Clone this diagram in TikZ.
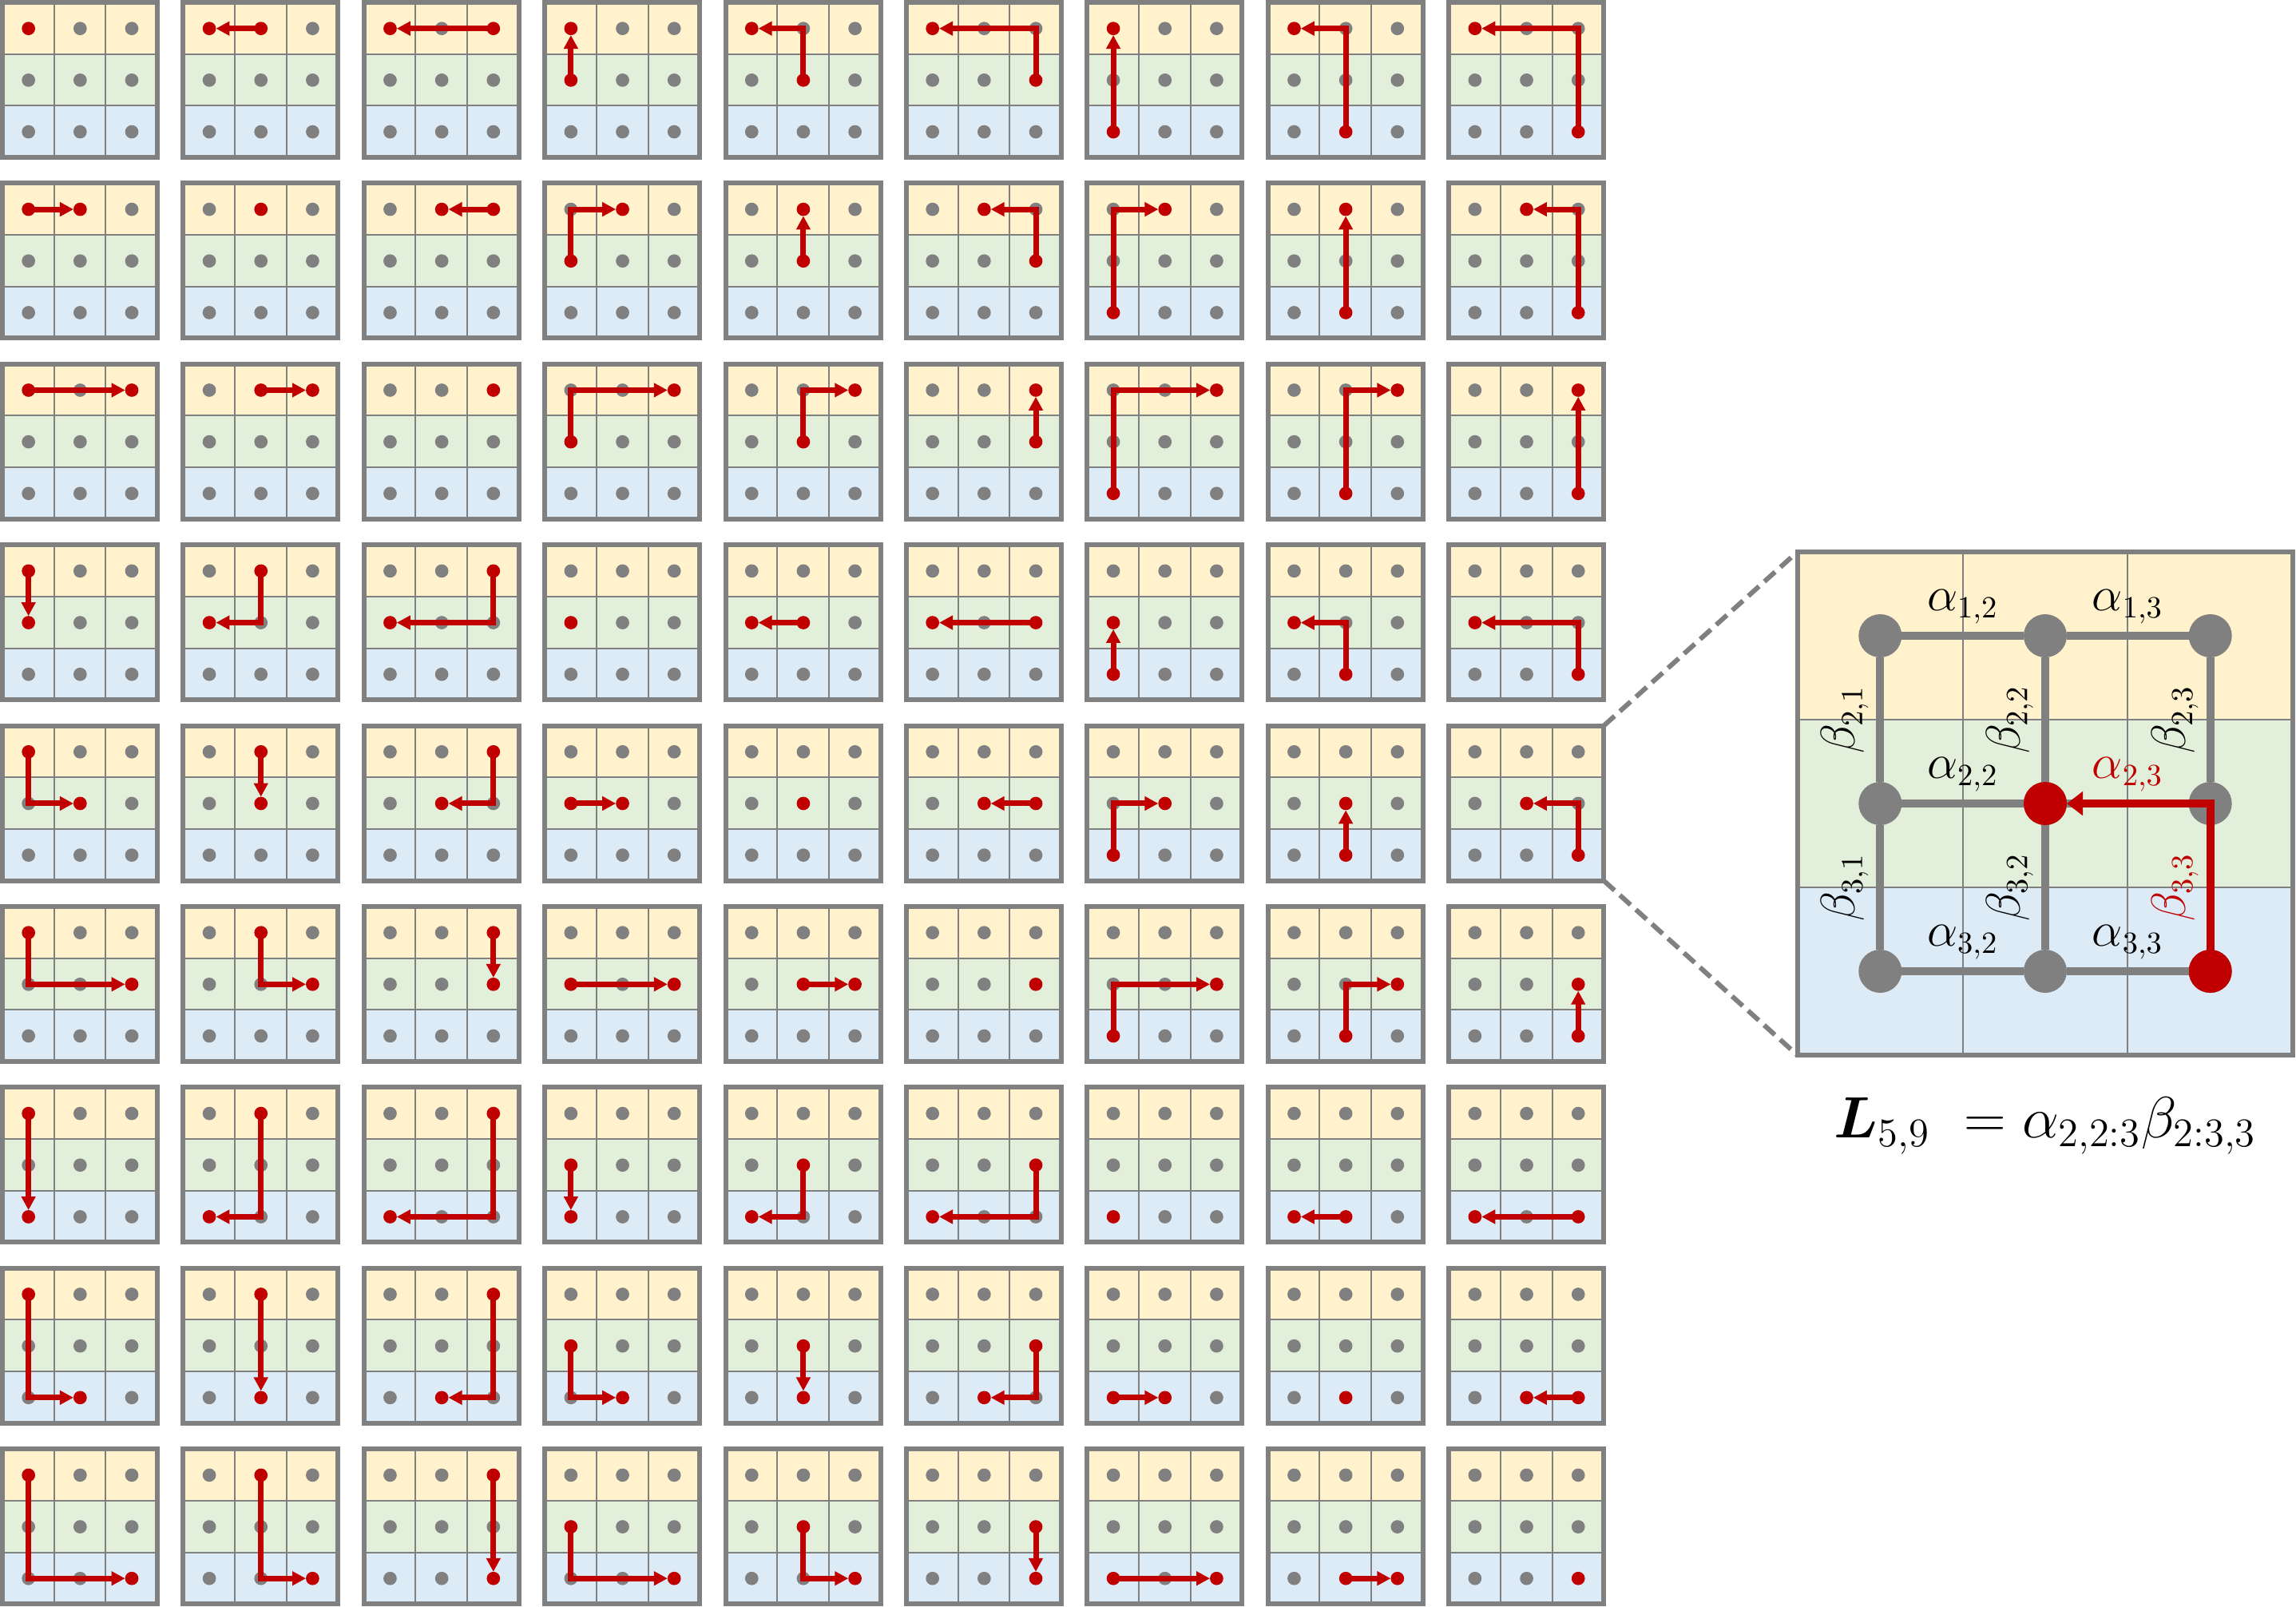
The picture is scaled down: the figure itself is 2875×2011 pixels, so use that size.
\documentclass[tikz,border=0pt]{standalone}
\usepackage{amsmath}
\usepackage{amssymb}
\usepackage{tikz}
\usetikzlibrary{arrows.meta}
\definecolor{rowtop}{RGB}{255,242,204}
\definecolor{rowmid}{RGB}{226,239,218}
\definecolor{rowbot}{RGB}{221,235,247}
\definecolor{gridgray}{RGB}{128,128,128}
\definecolor{pathred}{RGB}{192,0,0}

\begin{document}
\begin{tikzpicture}[x=0.01cm, y=-0.01cm,
      frame/.style={draw=gridgray, line width=0.06cm, minimum size=1.94cm, inner sep=0pt, outer sep=0pt},
      cellline/.style={draw=gridgray, line width=0.02cm},
      dot/.style={circle, fill=gridgray, minimum size=0.167cm, inner sep=0pt, outer sep=0pt},
      link/.style={draw=pathred, line width=0.07cm, -{Triangle[length=0.17cm, width=0.17cm]}},
      bigframe/.style={draw=gridgray, line width=0.06cm, minimum width=6.2cm, minimum height=6.3cm, inner sep=0pt, outer sep=0pt},
      bigdot/.style={circle, fill=gridgray, minimum size=0.54cm, inner sep=0pt, outer sep=0pt},
      mesh/.style={draw=gridgray, line width=0.1cm},
      biglink/.style={draw=pathred, line width=0.1cm, -{Triangle[length=0.2cm, width=0.29cm]}},
      alab/.style={midway, above, inner sep=0.1cm, font=\fontsize{16}{19}\selectfont},
      blab/.style={midway, rotate=90, anchor=south, inner sep=0.1cm, font=\fontsize{16}{19}\selectfont},
      zoomline/.style={draw=gridgray, line width=0.06cm, dash pattern=on 0.18cm off 0.09cm}
    ]
    \useasboundingbox (0,0) rectangle (2875,2011);

    % Small panels: row i, column j
    \foreach \pr in {1,...,9} {
      \foreach \pc in {1,...,9} {
        \pgfmathsetmacro{\panx}{(\pc-1)*226.4}
        \pgfmathsetmacro{\pany}{(\pr-1)*226.4}
        \fill[rowtop] (\panx+3,\pany+3) rectangle ++(194,64.67);
        \fill[rowmid] (\panx+3,\pany+67.67) rectangle ++(194,64.67);
        \fill[rowbot] (\panx+3,\pany+132.33) rectangle ++(194,64.67);
        \foreach \g in {67.67,132.33} {
          \draw[cellline] (\panx+\g,\pany+3) -- ++(0,194);
          \draw[cellline] (\panx+3,\pany+\g) -- ++(194,0);
        }
        \node[frame] (fr-\pr-\pc) at (\panx+100,\pany+100) {};
        % dots
        \foreach \k in {1,...,9} {
          \pgfmathtruncatemacro{\rk}{div(\k-1,3)}
          \pgfmathtruncatemacro{\ck}{mod(\k-1,3)}
          \def\dotcol{gridgray}
          \ifnum\k=\pr\relax \def\dotcol{pathred}\fi
          \ifnum\k=\pc\relax \def\dotcol{pathred}\fi
          \node[dot, fill=\dotcol] (d-\pr-\pc-\k) at (\panx+35.67+\ck*64.67, \pany+35.67+\rk*64.67) {};
        }
        % path from cell j to cell i
        \pgfmathtruncatemacro{\rowi}{div(\pr-1,3)}
        \pgfmathtruncatemacro{\coli}{mod(\pr-1,3)}
        \pgfmathtruncatemacro{\rowj}{div(\pc-1,3)}
        \pgfmathtruncatemacro{\colj}{mod(\pc-1,3)}
        \ifnum\pr=\pc\relax\else
          \ifnum\rowi=\rowj\relax
            \draw[link] (d-\pr-\pc-\pc.center) -- (d-\pr-\pc-\pr);
          \else\ifnum\coli=\colj\relax
            \draw[link] (d-\pr-\pc-\pc.center) -- (d-\pr-\pc-\pr);
          \else
            \draw[link] (d-\pr-\pc-\pc.center) |- (d-\pr-\pc-\pr);
          \fi\fi
        \fi
      }
    }

    % Zoomed panel
    \fill[rowtop] (2251,691) rectangle (2871,901);
    \fill[rowmid] (2251,901) rectangle (2871,1111);
    \fill[rowbot] (2251,1111) rectangle (2871,1321);
    \draw[cellline] (2457.7,691) -- (2457.7,1321);
    \draw[cellline] (2664.3,691) -- (2664.3,1321);
    \draw[cellline] (2251,901) -- (2871,901);
    \draw[cellline] (2251,1111) -- (2871,1111);
    \node[bigframe] (zoom) at (2561,1006) {};
    \foreach \k in {1,...,9} {
      \pgfmathtruncatemacro{\rk}{div(\k-1,3)}
      \pgfmathtruncatemacro{\ck}{mod(\k-1,3)}
      \node[bigdot] (b-\k) at (2354.3+\ck*206.67, 796+\rk*210) {};
    }
    \node[bigdot, fill=pathred] at (b-5) {};
    \node[bigdot, fill=pathred] at (b-9) {};

    % Weights
    \draw[mesh] (b-1) -- (b-2) node[alab] {$\alpha_{1,2}$};
    \draw[mesh] (b-2) -- (b-3) node[alab] {$\alpha_{1,3}$};
    \draw[mesh] (b-4) -- (b-5) node[alab] {$\alpha_{2,2}$};
    \draw[mesh] (b-5) -- (b-6) node[alab, text=pathred] {$\alpha_{2,3}$};
    \draw[mesh] (b-7) -- (b-8) node[alab] {$\alpha_{3,2}$};
    \draw[mesh] (b-8) -- (b-9) node[alab] {$\alpha_{3,3}$};
    \draw[mesh] (b-1) -- (b-4) node[blab] {$\beta_{2,1}$};
    \draw[mesh] (b-4) -- (b-7) node[blab] {$\beta_{3,1}$};
    \draw[mesh] (b-2) -- (b-5) node[blab] {$\beta_{2,2}$};
    \draw[mesh] (b-5) -- (b-8) node[blab] {$\beta_{3,2}$};
    \draw[mesh] (b-3) -- (b-6) node[blab] {$\beta_{2,3}$};
    \draw[mesh] (b-6) -- (b-9) node[blab, text=pathred] {$\beta_{3,3}$};
    \draw[biglink] (b-9.center) |- (b-5);

    % Zoom guides
    \draw[zoomline] (fr-5-9.north east) -- (zoom.north west);
    \draw[zoomline] (fr-5-9.south east) -- (zoom.south west);

    % Formula
    \node[font=\fontsize{21}{25}\selectfont] (eq) at (2561,1410) {$\boldsymbol{L}_{5,9}\ =\alpha_{2,2{:}3}\beta_{2{:}3,3}$};

  \end{tikzpicture}
\end{document}
